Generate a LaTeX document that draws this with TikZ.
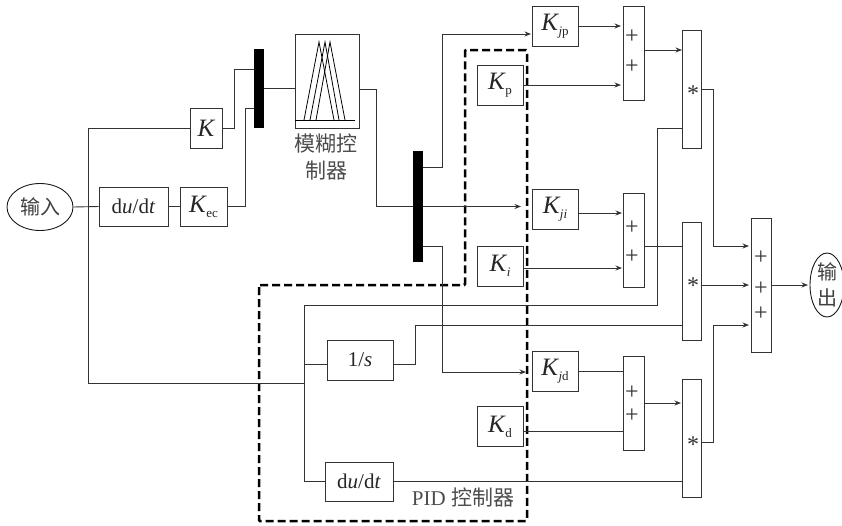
\documentclass[tikz,border=0pt]{standalone}
\usepackage{fontspec}
\setmainfont{Liberation Serif}
\newfontfamily\cjk{Noto Sans CJK SC}
\usetikzlibrary{arrows.meta,shapes.geometric}
\definecolor{ink}{HTML}{333333}
\newcommand{\Ksub}[1]{{\fontsize{25}{25}\selectfont\itshape K}\kern0.5pt\raisebox{-5pt}{\fontsize{13}{13}\selectfont #1}}
\tikzset{
  blk/.style={draw=ink,line width=0.9pt,fill=white,inner sep=0pt,text=black!85,font=\fontsize{21}{23}\selectfont},
  kbox/.style={blk,minimum width=46pt,minimum height=40pt},
  sumbox/.style={blk,minimum width=21pt,minimum height=94pt},
  mulbox/.style={blk,minimum width=19pt,minimum height=118pt},
  bar/.style={fill=black,draw=none,minimum width=10pt,inner sep=0pt},
  oval/.style={ellipse,draw=black!90,line width=0.9pt,fill=white,inner sep=0pt,text=black!75,font=\cjk\fontsize{20}{26}\selectfont},
  sym/.style={inner sep=0pt,text=black!80,font=\fontsize{24}{24}\selectfont},
  cjklabel/.style={inner sep=0pt,align=center,text=black!70,font=\cjk\fontsize{21}{27}\selectfont},
  wire/.style={draw=ink,line width=0.9pt},
  arr/.style={wire,-{Stealth[length=6.5pt,width=5pt]}},
  pidframe/.style={draw=black,line width=2.5pt,dash pattern=on 8pt off 4pt,rounded corners=1pt},
  fuzzy/.style={draw=black,line width=0.8pt}
}
\begin{document}
\begin{tikzpicture}[x=1pt,y=-1pt]
\useasboundingbox (0,0) rectangle (842,525);
% blocks
\node[oval,minimum width=66pt,minimum height=47pt] (in) at (40,207) {输入};
\node[blk,minimum width=69pt,minimum height=39pt] (d1) at (133.5,206.5) {d\textit{u}/d\textit{t}};
\node[blk,minimum width=47pt,minimum height=39pt] (kec) at (203.5,206.5) {\Ksub{ec}};
\node[blk,minimum width=32pt,minimum height=40pt] (k) at (206,128) {\fontsize{25}{25}\selectfont\itshape K};
\node[bar,minimum height=79pt] (b1) at (259,88.5) {};
\node[blk,minimum width=64pt,minimum height=94pt] (fz) at (327,81) {};
\node[bar,minimum height=111pt] (b2) at (418,206.5) {};
\node[kbox] (kjp) at (555,26) {\Ksub{\textit{j}p}};
\node[kbox] (kp) at (500,85) {\Ksub{p}};
\node[kbox] (kji) at (555,209) {\Ksub{\textit{ji}}};
\node[kbox] (ki) at (500,266) {\Ksub{\textit{i}}};
\node[kbox] (kjd) at (555,371.5) {\Ksub{\textit{j}d}};
\node[kbox] (kd) at (500,426.5) {\Ksub{d}};
\node[sumbox] (s1) at (633.5,53) {};
\node[sumbox] (s2) at (633.5,240) {};
\node[sumbox] (s3) at (633.5,403) {};
\node[mulbox] (m1) at (691.5,89) {};
\node[mulbox] (m2) at (691.5,281) {};
\node[mulbox] (m3) at (691.5,438.5) {};
\node[blk,minimum width=20pt,minimum height=134pt] (add) at (761,285) {};
\node[oval,minimum width=34pt,minimum height=64pt,align=center] (out) at (827,285) {输\\出};
\node[blk,minimum width=66pt,minimum height=40pt] (int) at (360,360) {1/\textit{s}};
\node[blk,minimum width=68pt,minimum height=39pt] (d2) at (359,481.5) {d\textit{u}/d\textit{t}};
% symbols in blocks
\node[sym] (p1a) at (632,37) {+};
\node[sym] (p1b) at (632,67) {+};
\node[sym] (p2a) at (632,228) {+};
\node[sym] (p2b) at (632,257) {+};
\node[sym] (p3a) at (632,393) {+};
\node[sym] (p3b) at (632,416) {+};
\node[sym] (p4a) at (761,258) {+};
\node[sym] (p4b) at (761,289) {+};
\node[sym] (p4c) at (761,314) {+};
\node[sym] (t1) at (693,94) {*};
\node[sym] (t2) at (693,286) {*};
\node[sym] (t3) at (693,445) {*};
% labels
\node[cjklabel] (fzl) at (326,157) {模糊控\\制器};
\node[inner sep=0pt,text=black!70,font=\fontsize{21}{23}\selectfont] (pid) at (463,497) {PID {\cjk 控制器}};
% fuzzy icon
\coordinate (fb1) at (295,120);
\coordinate (fb2) at (355,120);
\draw[fuzzy] (fb1) -- (fb2);
\draw[fuzzy] (304,120) -- (319,42) -- (334,120);
\draw[fuzzy] (310,120) -- (325,42) -- (339,120);
\draw[fuzzy] (316,120) -- (330,42) -- (345,120);
% PID frame
\draw[pidframe] (259,285) -- (465,285) -- (465,50) -- (527,50) -- (527,521) -- (259,521) -- cycle;
% junctions
\coordinate (j2) at (88,383);
\coordinate (j3) at (304,383);
% left wires
\draw[wire] (in.east) -- (d1.west);
\draw[wire] (d1.east) -- (kec.west);
\draw[wire] (kec.east) -- (245,206.5) -- (245,108) -- (b1.west |- 0,108);
\draw[wire] (k.west) -- (88,128) -- (j2) -- (j3);
\draw[wire] (k.east) -- (234,128) -- (234,69) -- (b1.west |- 0,69);
\draw[wire] (b1.east) -- (fz.west |- b1.east);
\draw[wire] (fz.east |- 0,89) -- (376,89) -- (376,206.5) -- (b2.west);
% fuzzy outputs
\draw[arr] (b2.east) -- (521,206.5);
\draw[arr] (b2.east |- 0,167) -- (442,167) -- (442,34) -- (531,34);
\draw[arr] (b2.east |- 0,246) -- (442,246) -- (442,372) -- (526,372);
% gains to sums
\draw[arr] (kjp.east) -- (621,26);
\draw[arr] (kp.east) -- (621,85);
\draw[arr] (kji.east |- 0,213) -- (622,213);
\draw[arr] (ki.east |- 0,268) -- (622,268);
\draw[wire] (kjd.east) -- (kjd.east -| s3.west);
\draw[wire] (kd.east |- 0,431) -- (s3.west |- 0,431);
% sums to products
\draw[arr] (s1.east |- 0,50) -- (682,50);
\draw[wire] (s2.east |- 0,246) -- (m2.west |- 0,246);
\draw[arr] (s3.east) -- (681,403);
% PID branches
\draw[wire] (304,305) -- (304,482);
\draw[wire] (304,305) -- (657,305) -- (657,128) -- (m1.west |- 0,128);
\draw[wire] (304,364) -- (int.west |- 0,364);
\draw[wire] (int.east |- 0,364) -- (415,364) -- (415,325) -- (m2.west |- 0,325);
\draw[wire] (304,481.5) -- (d2.west);
\draw[wire] (d2.east) -- (m3.west |- d2.east);
% products to adder
\draw[arr] (m1.east) -- (713,89) -- (713,246) -- (749,246);
\draw[arr] (m2.east |- 0,285) -- (749,285);
\draw[arr] (m3.east |- 0,442) -- (713,442) -- (713,325) -- (749,325);
\draw[arr] (add.east) -- (808,285);
\end{tikzpicture}
\end{document}
